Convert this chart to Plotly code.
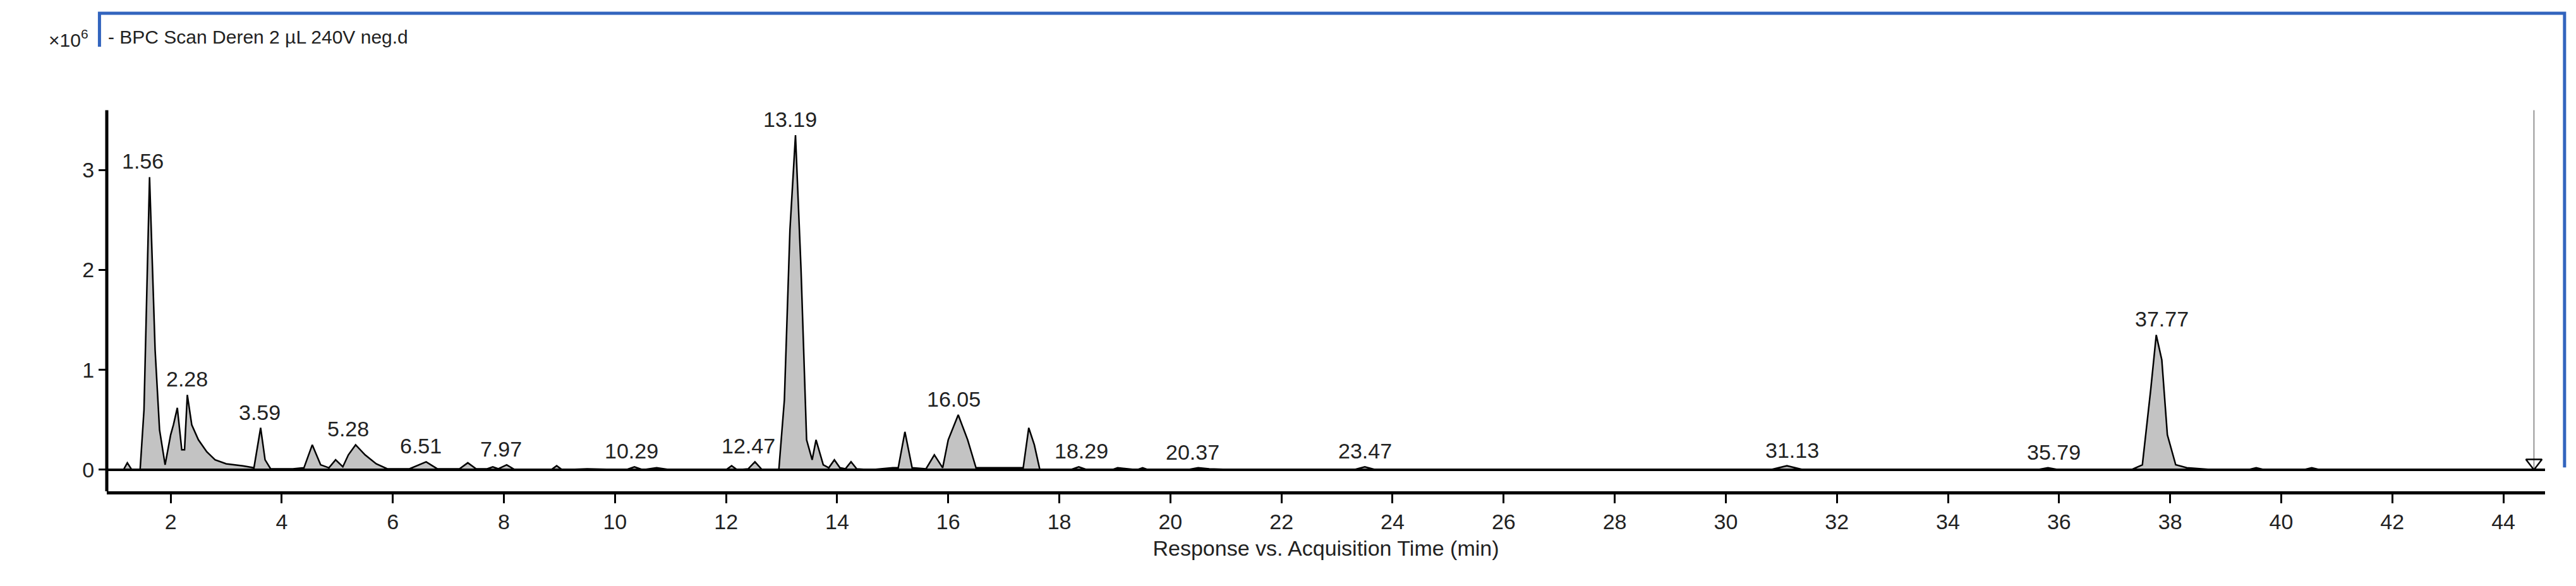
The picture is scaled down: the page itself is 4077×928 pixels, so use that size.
import plotly.graph_objects as go

# Traced chromatogram vertices (time in min, response in 1e6 counts)
time_min = [0.9, 1.15, 1.22, 1.3, 1.45, 1.52, 1.62, 1.72, 1.8, 1.9, 2.0, 2.05, 2.12, 2.2, 2.25, 2.3, 2.38,
            2.5, 2.65, 2.8, 3.0, 3.3, 3.5, 3.62, 3.7, 3.8, 4.2, 4.4, 4.55, 4.7, 4.85, 4.97, 5.1, 5.2, 5.33,
            5.5, 5.7, 5.9, 6.3, 6.5, 6.6, 6.8, 7.2, 7.35, 7.5, 7.7, 7.8, 7.9, 8.05, 8.2, 8.85, 8.95, 9.05,
            9.5, 10.2, 10.35, 10.5, 10.75, 11.0, 12.0, 12.1, 12.2, 12.4, 12.52, 12.65, 12.95, 13.05, 13.15,
            13.25, 13.35, 13.45, 13.55, 13.62, 13.75, 13.85, 13.95, 14.05, 14.15, 14.25, 14.35, 14.6,
            15.0, 15.1, 15.22, 15.35, 15.6, 15.75, 15.9, 16.0, 16.18, 16.35, 16.5, 17.0, 17.35, 17.45,
            17.55, 17.65, 18.2, 18.35, 18.5, 18.95, 19.05, 19.4, 19.5, 19.6, 20.3, 20.5, 20.7, 21.2,
            23.3, 23.5, 23.7, 30.8, 31.1, 31.4, 35.6, 35.8, 36.0, 37.3, 37.5, 37.65, 37.75, 37.85,
            37.95, 38.1, 38.3, 38.8, 39.4, 39.55, 39.7, 40.4, 40.55, 40.7, 44.6]
response = [0.0, 0.0, 0.07, 0.0, 0.0, 0.6, 2.93, 1.2, 0.4, 0.05, 0.35, 0.45, 0.62, 0.2, 0.2, 0.75, 0.45,
            0.3, 0.18, 0.1, 0.06, 0.04, 0.02, 0.42, 0.1, 0.01, 0.01, 0.02, 0.25, 0.05, 0.02, 0.1, 0.03,
            0.15, 0.25, 0.15, 0.06, 0.01, 0.01, 0.06, 0.08, 0.01, 0.01, 0.07, 0.01, 0.01, 0.03, 0.01,
            0.05, 0.0, 0.0, 0.04, 0.0, 0.01, 0.0, 0.03, 0.0, 0.02, 0.0, 0.0, 0.04, 0.0, 0.01, 0.08, 0.0,
            0.0, 0.7, 2.4, 3.35, 2.0, 0.3, 0.1, 0.3, 0.05, 0.02, 0.1, 0.02, 0.01, 0.08, 0.01, 0.0,
            0.02, 0.02, 0.38, 0.02, 0.01, 0.15, 0.02, 0.3, 0.55, 0.3, 0.02, 0.02, 0.02, 0.42,
            0.25, 0.0, 0.0, 0.03, 0.0, 0.0, 0.02, 0.0, 0.02, 0.0, 0.0, 0.02, 0.01, 0.0,
            0.0, 0.03, 0.0, 0.0, 0.04, 0.0, 0.0, 0.02, 0.0, 0.0, 0.05, 0.8, 1.35, 1.1,
            0.35, 0.05, 0.02, 0.0, 0.0, 0.02, 0.0, 0.0, 0.02, 0.0, 0.0]

peak_labels = ["1.56", "2.28", "3.59", "5.28", "6.51", "7.97", "10.29", "12.47", "13.19", "16.05",
               "18.29", "20.37", "23.47", "31.13", "35.79", "37.77"]
label_x = [1.5, 2.3, 3.6, 5.2, 6.5, 7.95, 10.3, 12.4, 13.15, 16.1, 18.4, 20.4, 23.5, 31.2, 35.9, 37.85]
label_y = [2.93, 0.75, 0.42, 0.25, 0.08, 0.05, 0.03, 0.08, 3.35, 0.55, 0.03, 0.02, 0.03, 0.04, 0.02, 1.35]

x_ticks = list(range(2, 45, 2))
y_ticks = [0, 1, 2, 3]

FAM = "Liberation Sans Narrow, Arial Narrow, Liberation Sans, sans-serif"

fig = go.Figure()
fig.add_trace(go.Scatter(x=time_min, y=response, mode="lines", fill="tozeroy",
                         fillcolor="rgb(195,195,195)", line=dict(color="black", width=2.5),
                         showlegend=False))
fig.add_trace(go.Scatter(x=[0.85, 44.75], y=[0, 0], mode="lines",
                         line=dict(color="black", width=4), showlegend=False))
fig.add_trace(go.Scatter(x=[44.55, 44.55], y=[0, 3.6], mode="lines",
                         line=dict(color="rgb(150,150,150)", width=2), showlegend=False))
fig.add_trace(go.Scatter(x=[44.55], y=[0.07], mode="markers",
                         marker=dict(symbol="triangle-down-open", size=22, color="black",
                                     line=dict(width=2.5)), showlegend=False))

for t, xx, yy in zip(peak_labels, label_x, label_y):
    fig.add_annotation(x=xx, y=yy, text=t, showarrow=False, yanchor="bottom", yshift=4,
                       font=dict(size=34, color="#222", family=FAM))

fig.add_annotation(xref="paper", yref="paper", x=0.0, y=0.975, xanchor="left", yanchor="top",
                   text="- BPC Scan Deren 2 µL 240V neg.d", showarrow=False,
                   font=dict(size=30, color="#222", family=FAM))
fig.add_annotation(xref="paper", yref="paper", x=-0.007, y=0.975, xanchor="right", yanchor="top",
                   text="×10<sup>6</sup>", showarrow=False,
                   font=dict(size=30, color="#222", family=FAM))

# blue frame (top, left, right)
fig.add_shape(type="path", xref="paper", yref="paper",
              path="M -0.003 0.93 L -0.003 1 L 1.008 1 L 1.008 0.05",
              line=dict(color="rgb(50,100,190)", width=5), layer="below")

font_ax = dict(size=34, color="#222", family=FAM)
fig.update_layout(
    width=4077, height=928, plot_bgcolor="white", paper_bgcolor="white",
    margin=dict(l=161, r=57, t=13, b=158),
    xaxis=dict(range=[0.85, 44.75], tickvals=x_ticks, ticks="outside", ticklen=14, tickwidth=3,
               tickcolor="black", showline=True, linecolor="black", linewidth=5, showgrid=False,
               zeroline=False, tickfont=font_ax,
               title=dict(text="Response vs. Acquisition Time (min)", font=font_ax, standoff=14)),
    yaxis=dict(range=[-0.215, 4.57], tickvals=y_ticks, ticks="outside", ticklen=12, tickwidth=3,
               tickcolor="black", showline=False, showgrid=False, zeroline=False, tickfont=font_ax),
)
fig.add_shape(type="line", xref="paper", yref="y", x0=0, x1=0, y0=-0.215, y1=3.6,
              line=dict(color="black", width=5))
fig.write_html("out.html")
